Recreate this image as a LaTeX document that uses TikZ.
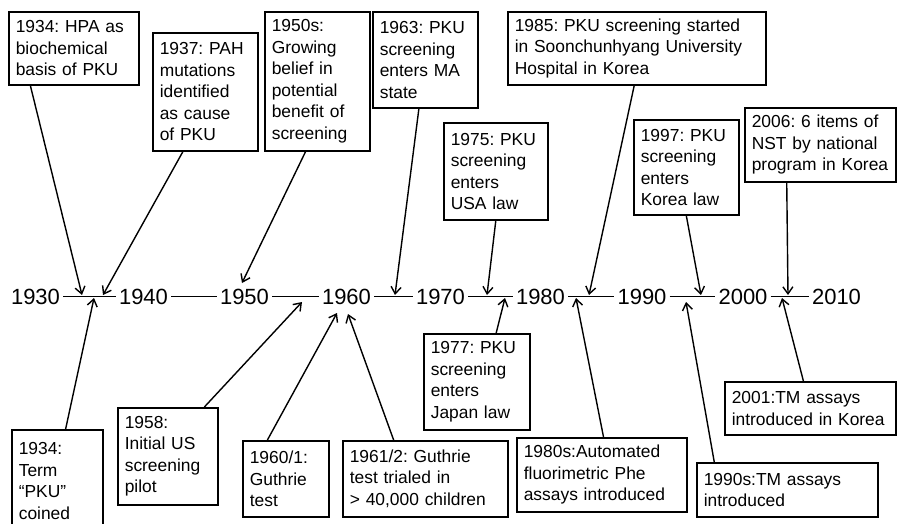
\documentclass[tikz,border=0pt]{standalone}
\usepackage{fontspec}
\setmainfont{Liberation Sans}
\usetikzlibrary{arrows.meta,calc}
\frenchspacing
\hyphenpenalty=10000
\exhyphenpenalty=10000
\tikzset{
  tb/.style={draw, line width=1.6pt, anchor=north west, align=left, inner xsep=8pt, inner ysep=0pt,
    font=\fontsize{17.4}{21.5}\selectfont},
  yr/.style={inner xsep=3pt, inner ysep=0pt, text height=16pt, text depth=0pt,
    font=\fontsize{22}{26}\selectfont},
  tl/.style={line width=1.5pt},
  arr/.style={line width=1.4pt, -{Straight Barb[length=7pt,width=10pt,line width=1.4pt]}}
}
\newcommand\tbox[6]{%
  \pgfmathsetlengthmacro\tbw{(#4-#2)*1pt}%
  \pgfmathsetlengthmacro\tbh{(#5-#3)*1pt}%
  \pgfmathsetlengthmacro\tbt{(#4-#2-14)*1pt}%
  \node[tb, inner xsep=7pt, text width=\tbt, minimum width=\tbw, minimum height=\tbh] (#1) at (#2,#3) {#6};}
\begin{document}
\begin{tikzpicture}[x=1pt,y=-1pt]
\useasboundingbox (0,0) rectangle (897,524);
\fill[white] (0,0) rectangle (897,524);
\clip (0,0) rectangle (897,524);
% timeline years
\node[yr] (y1930) at (35.5,296.5) {1930};
\node[yr] (y1940) at (143.5,296.5) {1940};
\node[yr] (y1950) at (244.5,296.5) {1950};
\node[yr] (y1960) at (346.5,296.5) {1960};
\node[yr] (y1970) at (440.5,296.5) {1970};
\node[yr] (y1980) at (540.5,296.5) {1980};
\node[yr] (y1990) at (642,296.5) {1990};
\node[yr] (y2000) at (743,296.5) {2000};
\node[yr] (y2010) at (836.5,296.5) {2010};
\draw[tl] (y1930) -- (y1940);
\draw[tl] (y1940) -- (y1950);
\draw[tl] (y1950) -- (y1960);
\draw[tl] (y1960) -- (y1970);
\draw[tl] (y1970) -- (y1980);
\draw[tl] (y1980) -- (y1990);
\draw[tl] (y1990) -- (y2000);
\draw[tl] (y2000) -- (y2010);
% top boxes
\tbox{hpa}{8}{11}{138}{84}{1934: HPA as\\biochemical\\basis of PKU}
\tbox{pah}{152}{32}{257}{150}{1937: PAH\\mutations\\identified\\as cause\\of PKU}
\tbox{fifties}{264}{11}{369}{150}{1950s:\\Growing\\belief in\\potential\\benefit of\\screening}
\tbox{ma}{372}{11}{477}{107}{1963: PKU\\screening\\enters MA\\state}
\tbox{soon}{507}{11}{765}{84}{1985: PKU screening started\\in Soonchunhyang University\\Hospital in Korea}
\tbox{usa}{443}{122}{547}{219}{1975: PKU\\screening\\enters\\USA law}
\tbox{korlaw}{633}{119}{738}{214}{1997: PKU\\screening\\enters\\Korea law}
\tbox{nst}{744}{107}{895}{181}{2006: 6 items of\\NST by national\\program in Korea}
% bottom boxes
\tbox{term}{11}{429}{102}{531}{1934:\\Term\\“PKU”\\coined}
\tbox{pilot}{117}{407}{217}{504}{1958:\\Initial US\\screening\\pilot}
\tbox{guth}{242}{440}{328}{516}{1960/1:\\Guthrie\\test}
\tbox{trial}{342}{440}{507}{516}{1961/2: Guthrie\\test trialed in\\> 40,000 children}
\tbox{japan}{423}{333}{529}{429}{1977: PKU\\screening\\enters\\Japan law}
\tbox{fluor}{516}{437}{686}{511}{1980s:Automated\\fluorimetric Phe\\assays introduced}
\tbox{tm}{696}{462}{877}{516}{1990s:TM assays\\introduced}
\tbox{tmk}{724}{381}{895}{434}{2001:TM assays\\introduced in Korea}
% arrow tips
\coordinate (t1) at (82,295);
\coordinate (t2) at (103,295);
\coordinate (t3) at (242,283);
\coordinate (t4) at (395,295);
\coordinate (t5) at (487,295);
\coordinate (t6) at (589,295);
\coordinate (t7) at (701,295);
\coordinate (t8) at (788,295);
\coordinate (b1) at (94,298);
\coordinate (b2) at (302,302);
\coordinate (b3) at (337,313);
\coordinate (b4) at (348,314);
\coordinate (b5) at (505,298);
\coordinate (b6) at (576,298);
\coordinate (b7) at (686,302);
\coordinate (b8) at (782,298);
% arrows from top boxes
\draw[arr] ($(hpa.south west)!0.17!(hpa.south east)$) -- (t1);
\draw[arr] ($(pah.south west)!0.29!(pah.south east)$) -- (t2);
\draw[arr] ($(fifties.south west)!0.39!(fifties.south east)$) -- (t3);
\draw[arr] ($(ma.south west)!0.44!(ma.south east)$) -- (t4);
\draw[arr] ($(usa.south west)!0.5!(usa.south east)$) -- (t5);
\draw[arr] ($(soon.south west)!0.49!(soon.south east)$) -- (t6);
\draw[arr] ($(korlaw.south west)!0.5!(korlaw.south east)$) -- (t7);
\draw[arr] ($(nst.south west)!0.28!(nst.south east)$) -- (t8);
% arrows from bottom boxes
\draw[arr] ($(term.north west)!0.59!(term.north east)$) -- (b1);
\draw[arr] ($(pilot.north west)!0.86!(pilot.north east)$) -- (b2);
\draw[arr] ($(guth.north west)!0.29!(guth.north east)$) -- (b3);
\draw[arr] ($(trial.north west)!0.31!(trial.north east)$) -- (b4);
\draw[arr] ($(japan.north west)!0.68!(japan.north east)$) -- (b5);
\draw[arr] ($(fluor.north west)!0.51!(fluor.north east)$) -- (b6);
\draw[arr] ($(tm.north west)!0.1!(tm.north east)$) -- (b7);
\draw[arr] ($(tmk.north west)!0.46!(tmk.north east)$) -- (b8);
\end{tikzpicture}
\end{document}
